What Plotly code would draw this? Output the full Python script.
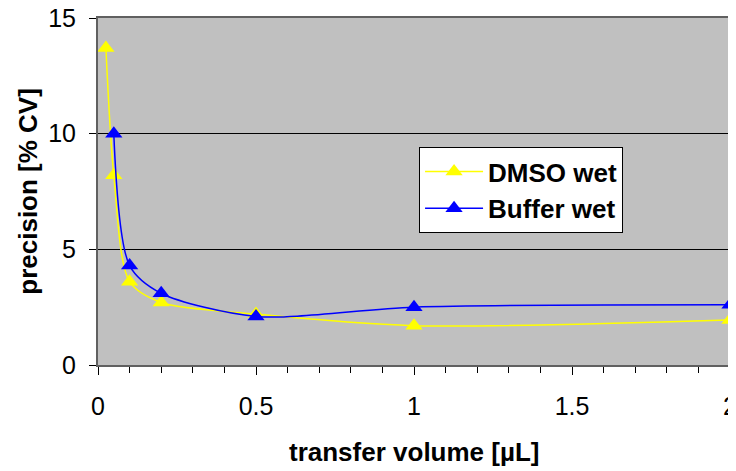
import plotly.graph_objects as go

dmso_x = [0.025, 0.05, 0.1, 0.2, 0.5, 1.0, 2.0]
dmso_y = [13.7, 8.2, 3.6, 2.7, 2.2, 1.7, 1.95]
buf_x = [0.05, 0.1, 0.2, 0.5, 1.0, 2.0]
buf_y = [10.0, 4.3, 3.1, 2.1, 2.5, 2.6]
x_ticks = [0, 0.5, 1, 1.5, 2]
x_labels = ["0", "0.5", "1", "1.5", "2"]
y_ticks = [0, 5, 10, 15]

FONT = "Liberation Sans, Arial"

fig = go.Figure()
fig.add_trace(go.Scatter(x=dmso_x, y=dmso_y, name="<b>DMSO wet</b>", mode="lines+markers",
                         line=dict(color="#FFFF00", width=1.5, shape="spline", smoothing=0.8),
                         marker=dict(symbol="triangle-up", size=15, color="#FFFF00")))
fig.add_trace(go.Scatter(x=buf_x, y=buf_y, name="<b>Buffer wet</b>", mode="lines+markers",
                         line=dict(color="#0000FF", width=1.5, shape="spline", smoothing=0.8),
                         marker=dict(symbol="triangle-up", size=15, color="#0000FF")))

# page body has an 8px margin, so the figure is sized/offset to compensate
fig.update_layout(
    width=728, height=463,
    margin=dict(l=90, r=6, t=10, b=106, autoexpand=False),
    paper_bgcolor="white", plot_bgcolor="#C0C0C0",
    font=dict(family=FONT, size=24, color="black"),
    legend=dict(x=0.508, y=0.628, xanchor="left", yanchor="top",
                bgcolor="white", bordercolor="black", borderwidth=1,
                font=dict(size=26, family=FONT),
                itemwidth=58),
    showlegend=True,
    annotations=[
        dict(text="<b>transfer volume [µL]</b>", xref="paper", yref="paper",
             x=0.5, y=-0.251, yanchor="middle", xanchor="center", showarrow=False,
             font=dict(size=26, family=FONT)),
        dict(text="<b>precision [% CV]</b>", xref="paper", yref="paper",
             x=-0.112, y=0.5, xanchor="center", yanchor="middle", textangle=-90, showarrow=False,
             font=dict(size=26, family=FONT)),
    ],
)
fig.update_xaxes(range=[0, 2], tickvals=x_ticks, ticktext=x_labels, automargin=False,
                 ticklabeloverflow="allow", ticklabelstandoff=10,
                 showgrid=False, zeroline=False, showline=True, linecolor="#606060",
                 linewidth=2, mirror=True, ticks="outside", ticklen=8, tickcolor="black",
                 tickfont=dict(size=25),
                 minor=dict(dtick=0.1, ticks="outside", ticklen=6, tickcolor="black", showgrid=False))
fig.update_yaxes(range=[0, 15], tickvals=y_ticks, showgrid=True, gridcolor="black", gridwidth=1,
                 automargin=False, ticklabelstandoff=8, tickfont=dict(size=25),
                 ticklabeloverflow="allow",
                 zeroline=False, showline=True, linecolor="#606060", linewidth=2, mirror=True,
                 ticks="outside", ticklen=7, tickcolor="black")

fig.write_html("out.html")
